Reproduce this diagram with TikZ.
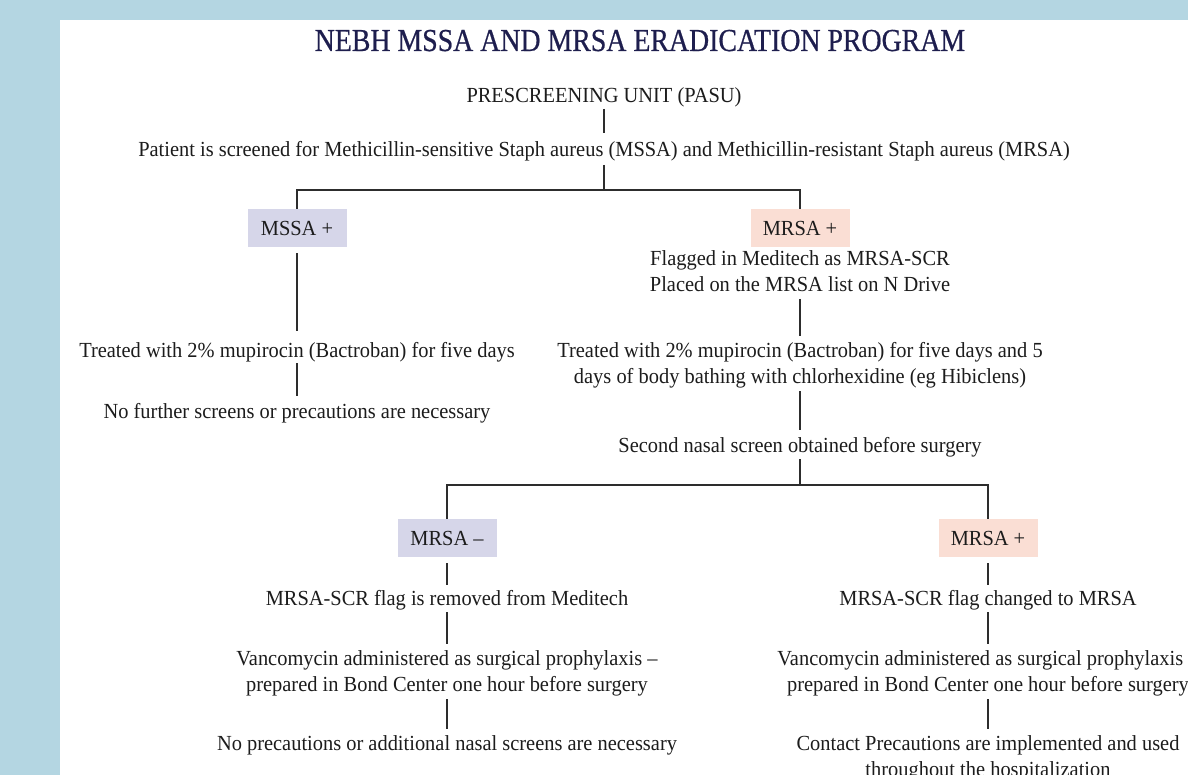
\documentclass[tikz,border=0pt]{standalone}
\usepackage{fontspec}
\setmainfont{Liberation Serif}
\newfontfamily\bodyfont[FakeStretch=0.95]{Liberation Serif}
\newfontfamily\ttlfont[FakeStretch=0.87,FakeBold=0.6]{Liberation Serif}
\definecolor{bgblue}{RGB}{180,214,226}
\definecolor{textc}{RGB}{28,28,28}
\definecolor{ttlc}{RGB}{30,30,78}
\definecolor{linec}{RGB}{45,45,45}
\definecolor{lavender}{RGB}{214,214,233}
\definecolor{pinkbox}{RGB}{250,222,212}
\begin{document}
\begin{tikzpicture}[x=1pt,y=-1pt,
  txt/.style={inner sep=0pt, anchor=base, text=textc,
    font=\bodyfont\fontsize{21.5}{26}\selectfont},
  ttl/.style={inner sep=0pt, anchor=base, text=ttlc,
    font=\ttlfont\fontsize{32}{38}\selectfont},
  boxbase/.style={inner sep=0pt, anchor=center, text=textc,
    minimum width=99pt, minimum height=38pt,
    font=\bodyfont\fontsize{21.5}{26}\selectfont},
  boxL/.style={boxbase, fill=lavender},
  boxR/.style={boxbase, fill=pinkbox},
  conn/.style={draw=linec, line width=1.7pt}
]
\useasboundingbox (0,0) rectangle (1188,775);
\fill[bgblue] (0,0) rectangle (1188,775);
\fill[white] (60,20) rectangle (1188,775);

\node[ttl] (title) at (640,51) {NEBH MSSA AND MRSA ERADICATION PROGRAM};
\node[txt] (pasu) at (604,103) {PRESCREENING UNIT (PASU)};
\node[txt] (patient) at (604,157) {Patient is screened for Methicillin-sensitive Staph aureus (MSSA) and Methicillin-resistant Staph aureus (MRSA)};

\node[boxL] (mssa) at (297,228) {MSSA +};
\node[boxR] (mrsa) at (800,228) {MRSA +};
\node[txt] (flag1) at (800,266) {Flagged in Meditech as MRSA-SCR};
\node[txt] (flag2) at (800,292) {Placed on the MRSA list on N Drive};

\node[txt] (treatL) at (297,357) {Treated with 2\% mupirocin (Bactroban) for five days};
\node[txt] (nofurther) at (297,418) {No further screens or precautions are necessary};
\node[txt] (treatR1) at (800,357) {Treated with 2\% mupirocin (Bactroban) for five days and 5};
\node[txt] (treatR2) at (800,383) {days of body bathing with chlorhexidine (eg Hibiclens)};
\node[txt] (second) at (800,452) {Second nasal screen obtained before surgery};

\node[boxL] (neg) at (447,538) {MRSA –};
\node[boxR] (pos) at (988,538) {MRSA +};
\node[txt] (removed) at (447,605) {MRSA-SCR flag is removed from Meditech};
\node[txt] (changed) at (988,605) {MRSA-SCR flag changed to MRSA};
\node[txt] (vancL1) at (447,665) {Vancomycin administered as surgical prophylaxis –};
\node[txt] (vancL2) at (447,691) {prepared in Bond Center one hour before surgery};
\node[txt] (vancR1) at (988,665) {Vancomycin administered as surgical prophylaxis –};
\node[txt] (vancR2) at (988,691) {prepared in Bond Center one hour before surgery};
\node[txt] (noprec) at (447,750) {No precautions or additional nasal screens are necessary};
\node[txt] (contact1) at (988,750) {Contact Precautions are implemented and used};
\node[txt] (contact2) at (988,776) {throughout the hospitalization};

\coordinate (j1) at (604,190);
\coordinate (j2) at (800,485);

\draw[conn] ([yshift=-6pt]pasu.base) -- ([yshift=24pt]patient.base);
\draw[conn] ([yshift=-8pt]patient.base) -- (j1);
\draw[conn] (mssa.north) |- (j1) -| (mrsa.north);
\draw[conn] ([yshift=-6pt]mssa.south) -- ([yshift=26pt]treatL.base);
\draw[conn] ([yshift=-6pt]treatL.base) -- ([yshift=22pt]nofurther.base);
\draw[conn] ([yshift=-7pt]flag2.base) -- ([yshift=21pt]treatR1.base);
\draw[conn] ([yshift=-8pt]treatR2.base) -- ([yshift=22pt]second.base);
\draw[conn] ([yshift=-7pt]second.base) -- (j2);
\draw[conn] (neg.north) |- (j2) -| (pos.north);
\draw[conn] ([yshift=-6pt]neg.south) -- ([yshift=20pt]removed.base);
\draw[conn] ([yshift=-6pt]pos.south) -- ([yshift=20pt]changed.base);
\draw[conn] ([yshift=-7pt]removed.base) -- ([yshift=21pt]vancL1.base);
\draw[conn] ([yshift=-7pt]changed.base) -- ([yshift=21pt]vancR1.base);
\draw[conn] ([yshift=-8pt]vancL2.base) -- ([yshift=21pt]noprec.base);
\draw[conn] ([yshift=-8pt]vancR2.base) -- ([yshift=21pt]contact1.base);
\end{tikzpicture}
\end{document}
